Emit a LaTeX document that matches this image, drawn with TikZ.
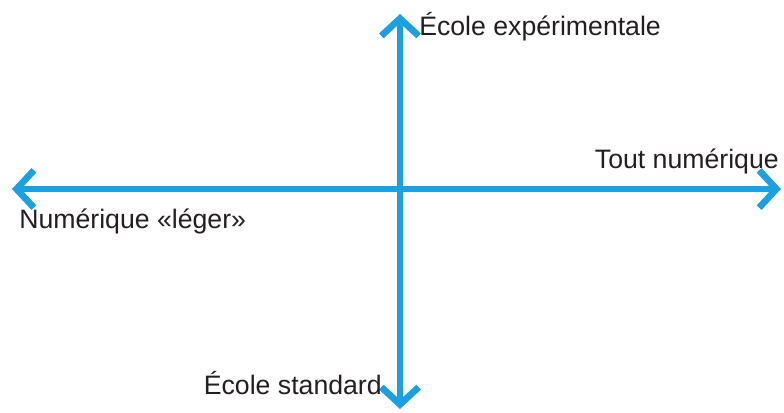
\documentclass[tikz,border=0pt]{standalone}
\usepackage{fontspec}
\setmainfont{Liberation Sans}
\usepackage{xcolor}
\usetikzlibrary{arrows.meta,positioning}
\definecolor{axiscolor}{HTML}{1BA1E2}
\definecolor{textcolor}{HTML}{231F20}

\begin{document}
\begin{tikzpicture}[
  x=0.75pt, y=-0.75pt,
  axis/.style={draw=axiscolor, line width=5pt,
    {Straight Barb[length=13pt,width=28pt]}-{Straight Barb[length=13pt,width=28pt]}},
  lbl/.style={font=\fontsize{20}{24}\selectfont, text=textcolor, inner sep=0pt},
]
  % bounding box (784 x 412 px)
  \useasboundingbox (0,0) rectangle (784,412);

  % axis ends
  \coordinate (top) at (400,14);
  \coordinate (bottom) at (400,409);
  \coordinate (left) at (12,189);
  \coordinate (right) at (781,189);

  % axes
  \draw[axis] (bottom) -- (top);
  \draw[axis] (left) -- (right);

  % labels
  \node[lbl, anchor=base west] (exp) at (419,35) {École expérimentale};
  \node[lbl, anchor=base east] (tout) at (779,168) {Tout numérique};
  \node[lbl, anchor=base west] (leger) at (19,228) {Numérique «léger»};
  \node[lbl, anchor=base east] (std) at (382,394) {École standard};
\end{tikzpicture}
\end{document}
